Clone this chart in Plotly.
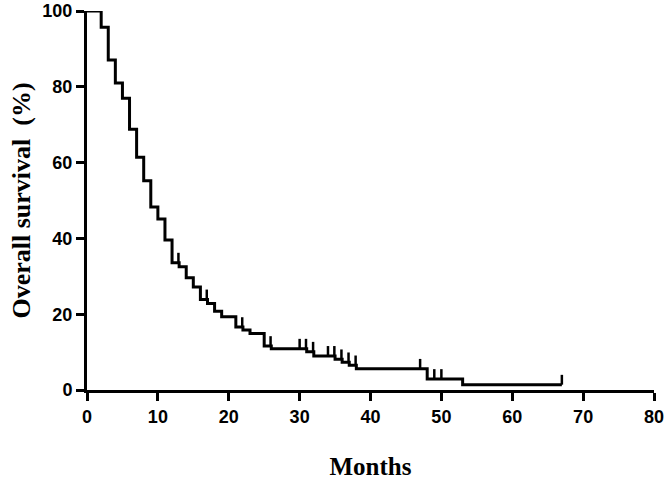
import plotly.graph_objects as go

# Kaplan-Meier steps
months = [0, 2, 3, 4, 5, 6, 7, 8, 9, 10, 11, 12, 13, 14, 15, 16, 17, 18, 19, 21, 22,
          23, 25, 26, 31, 32, 35, 36, 37, 38, 48, 53, 67]
survival = [100, 95.7, 87.1, 81.0, 77.0, 68.8, 61.4, 55.2, 48.3, 45.1, 39.6, 33.6, 32.5,
            29.6, 27.2, 23.9, 22.8, 20.8, 19.3, 16.6, 15.8, 14.9, 11.6, 10.9, 10.1, 9.0,
            8.1, 7.3, 6.5, 5.6, 2.9, 1.4, 1.4]

# censored observations (time, level at that time)
cens_months = [12.9, 16.9, 21.9, 25.9, 30.0, 30.9, 31.9, 34.0, 34.9, 35.9, 36.9, 37.9,
               47.0, 49.0, 50.0, 67.0]
cens_level = [33.6, 23.9, 16.6, 11.6, 10.9, 10.9, 10.1, 9.0, 9.0, 8.1, 7.3, 6.5,
              5.6, 2.9, 2.9, 1.4]
tick_h = 2.6

cx, cy = [], []
for t, s in zip(cens_months, cens_level):
    cx += [t, t, None]
    cy += [s, s + tick_h, None]

fig = go.Figure()
fig.add_trace(go.Scatter(x=months, y=survival, mode="lines", line_shape="hv",
                         line=dict(color="black", width=3), showlegend=False))
fig.add_trace(go.Scatter(x=cx, y=cy, mode="lines",
                         line=dict(color="black", width=2.5), showlegend=False))

tickfont = dict(family="Liberation Sans", size=18, color="black", weight="bold")

fig.update_layout(
    width=668, height=480,
    margin=dict(l=87, r=14, t=11, b=90),
    plot_bgcolor="white", paper_bgcolor="white",
    xaxis=dict(range=[0, 80], tickvals=[0, 10, 20, 30, 40, 50, 60, 70, 80],
               showgrid=False, zeroline=False, showline=True, linecolor="black",
               linewidth=3, ticks="outside", ticklen=8, tickwidth=3, tickcolor="black",
               tickfont=tickfont, automargin=False,
               title=dict(text="Months", standoff=32,
                          font=dict(family="Liberation Serif", size=25, color="black",
                                    weight="bold"))),
    yaxis=dict(range=[0, 100], tickvals=[0, 20, 40, 60, 80, 100],
               showgrid=False, zeroline=False, showline=True, linecolor="black",
               linewidth=3, ticks="outside", ticklen=8, tickwidth=3, tickcolor="black",
               tickfont=tickfont, automargin=False,
               title=dict(text="Overall survival&nbsp;&nbsp;(%)", standoff=5,
                          font=dict(family="Liberation Serif", size=26, color="black",
                                    weight="bold"))),
)

# drop the default 8px body margin so the figure fills the window
fig.write_html("out.html", config={"displayModeBar": False},
               post_script="document.body.style.margin='0px';")
